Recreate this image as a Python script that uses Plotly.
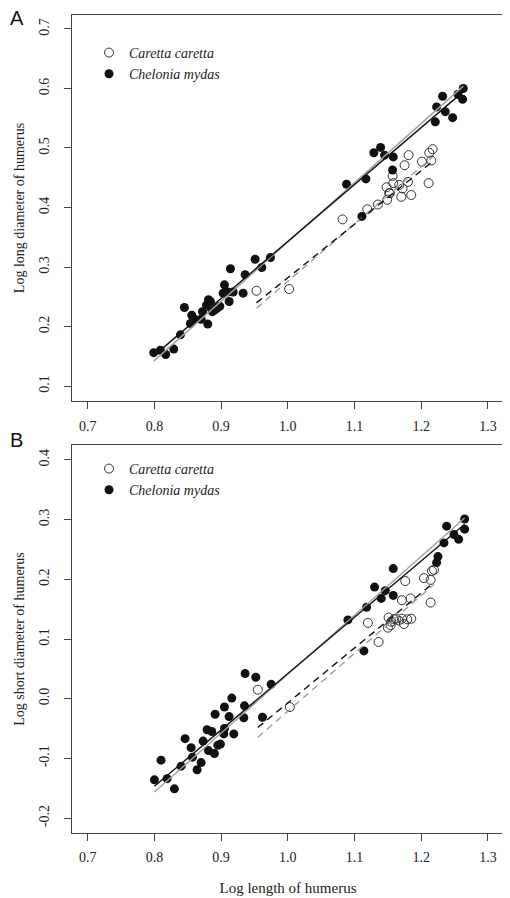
import plotly.graph_objects as go

# ---------------- data ----------------
# Panel A: log long diameter of humerus vs log length of humerus
chel_a_x = [0.799, 0.809, 0.817, 0.829, 0.839, 0.845, 0.856, 0.854, 0.861, 0.872,
            0.870, 0.880, 0.881, 0.878, 0.884, 0.891, 0.894, 0.898, 0.887, 0.903,
            0.905, 0.912, 0.918, 0.910, 0.914, 0.933, 0.936, 0.951, 0.961, 0.974,
            1.088, 1.117, 1.129, 1.139, 1.145, 1.158, 1.157, 1.111, 1.221, 1.223,
            1.232, 1.236, 1.247, 1.255, 1.263, 1.262]
chel_a_y = [0.156, 0.160, 0.153, 0.162, 0.186, 0.232, 0.219, 0.205, 0.212, 0.225,
            0.212, 0.204, 0.245, 0.236, 0.242, 0.228, 0.231, 0.234, 0.225, 0.256,
            0.270, 0.242, 0.258, 0.258, 0.297, 0.256, 0.287, 0.313, 0.299, 0.316,
            0.439, 0.448, 0.492, 0.501, 0.488, 0.485, 0.463, 0.385, 0.544, 0.569,
            0.587, 0.561, 0.551, 0.590, 0.600, 0.582]
car_a_x = [0.953, 1.002, 1.082, 1.119, 1.135, 1.149, 1.148, 1.152, 1.157, 1.158,
           1.167, 1.170, 1.172, 1.180, 1.185, 1.175, 1.181, 1.201, 1.211, 1.212,
           1.215, 1.217, 1.153]
car_a_y = [0.260, 0.263, 0.380, 0.397, 0.405, 0.413, 0.434, 0.424, 0.453, 0.441,
           0.438, 0.418, 0.432, 0.443, 0.421, 0.471, 0.488, 0.477, 0.441, 0.492,
           0.479, 0.498, 0.424]

# Panel B: log short diameter of humerus vs log length of humerus
chel_b_x = [0.800, 0.810, 0.819, 0.830, 0.840, 0.846, 0.855, 0.857, 0.864, 0.870,
            0.873, 0.879, 0.881, 0.886, 0.890, 0.895, 0.899, 0.891, 0.904, 0.905,
            0.905, 0.912, 0.916, 0.919, 0.934, 0.935, 0.936, 0.952, 0.962, 0.975,
            1.090, 1.114, 1.118, 1.130, 1.140, 1.146, 1.158, 1.158, 1.223, 1.225,
            1.234, 1.238, 1.249, 1.256, 1.265, 1.265]
chel_b_y = [-0.136, -0.103, -0.134, -0.151, -0.113, -0.067, -0.082, -0.098, -0.119, -0.107,
            -0.071, -0.052, -0.087, -0.055, -0.092, -0.078, -0.076, -0.026, -0.059, -0.050,
            -0.014, -0.030, 0.001, -0.059, -0.032, -0.012, 0.042, 0.036, -0.031, 0.024,
            0.132, 0.080, 0.153, 0.187, 0.168, 0.181, 0.218, 0.173, 0.228, 0.238,
            0.261, 0.289, 0.275, 0.267, 0.301, 0.284]
car_b_x = [0.955, 1.003, 1.120, 1.136, 1.150, 1.151, 1.155, 1.159, 1.162, 1.166,
           1.171, 1.174, 1.179, 1.185, 1.171, 1.176, 1.184, 1.204, 1.214, 1.214,
           1.216, 1.219, 1.154]
car_b_y = [0.015, -0.014, 0.127, 0.095, 0.119, 0.136, 0.129, 0.133, 0.134, 0.131,
           0.134, 0.125, 0.133, 0.134, 0.165, 0.197, 0.168, 0.202, 0.161, 0.199,
           0.214, 0.216, 0.123]

# Fitted lines: (intercept, slope) per panel
chel_a_fit_black = (-0.614, 0.957)
chel_a_fit_gray = (-0.654, 0.996)
car_a_fit_black = (-0.618, 0.900)
car_a_fit_gray = (-0.687, 0.963)
chel_b_fit_black = (-0.902, 0.944)
chel_b_fit_gray = (-0.946, 0.987)
car_b_fit_black = (-0.927, 0.920)
car_b_fit_gray = (-0.991, 0.970)

species_names = ["Caretta caretta", "Chelonia mydas"]
x_ticks = [0.7, 0.8, 0.9, 1.0, 1.1, 1.2, 1.3]
ya_ticks = [0.1, 0.2, 0.3, 0.4, 0.5, 0.6, 0.7]
yb_ticks = [-0.2, -0.1, 0.0, 0.1, 0.2, 0.3, 0.4]

# ---------------- figure ----------------
SERIF = "Liberation Serif, Times New Roman, serif"
OFF = 8                      # default page body margin
W, H = 510 - OFF, 898 - OFF
ML, MR, MT, MB = 72 - OFF, 6, 15 - OFF, 65

fig = go.Figure()

def fit_line(xs, fit, color, dash, xa, ya):
    x0, x1 = min(xs), max(xs)
    b0, b1 = fit
    fig.add_trace(go.Scatter(x=[x0, x1], y=[b0 + b1 * x0, b0 + b1 * x1], mode="lines",
                             line=dict(color=color, width=1.4, dash=dash),
                             xaxis=xa, yaxis=ya, showlegend=False, hoverinfo="skip"))

def panel(car_x, car_y, chel_x, chel_y, fits, xa, ya, leg):
    fig.add_trace(go.Scatter(x=car_x, y=car_y, mode="markers", name="<i>%s</i>" % species_names[0],
                             marker=dict(symbol="circle-open", size=9, color="#333",
                                         line=dict(width=1, color="#333")),
                             xaxis=xa, yaxis=ya, legend=leg))
    fig.add_trace(go.Scatter(x=chel_x, y=chel_y, mode="markers", name="<i>%s</i>" % species_names[1],
                             marker=dict(symbol="circle", size=9, color="#111"),
                             xaxis=xa, yaxis=ya, legend=leg))
    cb, cg, kb, kg = fits
    fit_line(chel_x, cg, "#a0a0a0", "solid", xa, ya)
    fit_line(chel_x, cb, "#111", "solid", xa, ya)
    fit_line(car_x, kg, "#a0a0a0", "7px,5px", xa, ya)
    fit_line(car_x, kb, "#111", "7px,5px", xa, ya)

panel(car_a_x, car_a_y, chel_a_x, chel_a_y,
      (chel_a_fit_black, chel_a_fit_gray, car_a_fit_black, car_a_fit_gray), "x", "y", "legend")
panel(car_b_x, car_b_y, chel_b_x, chel_b_y,
      (chel_b_fit_black, chel_b_fit_gray, car_b_fit_black, car_b_fit_gray), "x2", "y2", "legend2")

# helpers: page pixel -> paper fraction
ph = H - MT - MB
pw = W - ML - MR
def fy(py):
    return (H - MB - (py - OFF)) / ph
def fx(px):
    return ((px - OFF) - ML) / pw

axis_common = dict(showline=True, linecolor="#444", linewidth=1, mirror=True,
                   ticks="outside", ticklen=7, tickcolor="#444", showgrid=False,
                   zeroline=False, tickfont=dict(family=SERIF, size=14, color="#222"))

fig.update_layout(
    width=W, height=H, margin=dict(l=ML, r=MR, t=MT, b=MB),
    paper_bgcolor="white", plot_bgcolor="white",
    font=dict(family=SERIF, color="#222"),
    xaxis=dict(domain=[0, 1], anchor="y", range=[0.6765, 1.324], tickvals=x_ticks,
               ticktext=["%.1f" % v for v in x_ticks], ticklabelstandoff=5, **axis_common),
    yaxis=dict(domain=[fy(401), 1], anchor="x", range=[0.0748, 0.7235], tickvals=ya_ticks,
               ticktext=["%.1f" % v for v in ya_ticks], tickangle=-90, ticklabelstandoff=9,
               title=dict(text="Log long diameter of humerus", font=dict(family=SERIF, size=14), standoff=9),
               **axis_common),
    xaxis2=dict(domain=[0, 1], anchor="y2", range=[0.6765, 1.324], tickvals=x_ticks,
                ticktext=["%.1f" % v for v in x_ticks], ticklabelstandoff=4,
                title=dict(text="Log length of humerus", font=dict(family=SERIF, size=15), standoff=18),
                **axis_common),
    yaxis2=dict(domain=[0, fy(445)], anchor="x2", range=[-0.225, 0.425], tickvals=yb_ticks,
                ticktext=["%.1f" % v for v in yb_ticks], tickangle=-90, ticklabelstandoff=9,
                title=dict(text="Log short diameter of humerus", font=dict(family=SERIF, size=14), standoff=9),
                **axis_common),
    legend=dict(x=fx(89), y=fy(37), xanchor="left", yanchor="top", bgcolor="rgba(0,0,0,0)",
                font=dict(family=SERIF, size=14, color="#222"), itemwidth=30, tracegroupgap=0,
                traceorder="normal"),
    legend2=dict(x=fx(89), y=fy(453), xanchor="left", yanchor="top", bgcolor="rgba(0,0,0,0)",
                 font=dict(family=SERIF, size=14, color="#222"), itemwidth=30, tracegroupgap=0,
                 traceorder="normal"),
    annotations=[
        dict(text="A", x=fx(17), y=fy(18), xref="paper", yref="paper",
             showarrow=False, font=dict(family="Liberation Sans, Arial", size=20, color="#111"),
             xanchor="center", yanchor="middle"),
        dict(text="B", x=fx(17), y=fy(440), xref="paper", yref="paper",
             showarrow=False, font=dict(family="Liberation Sans, Arial", size=20, color="#111"),
             xanchor="center", yanchor="middle"),
    ],
)

fig.write_html("out.html")
